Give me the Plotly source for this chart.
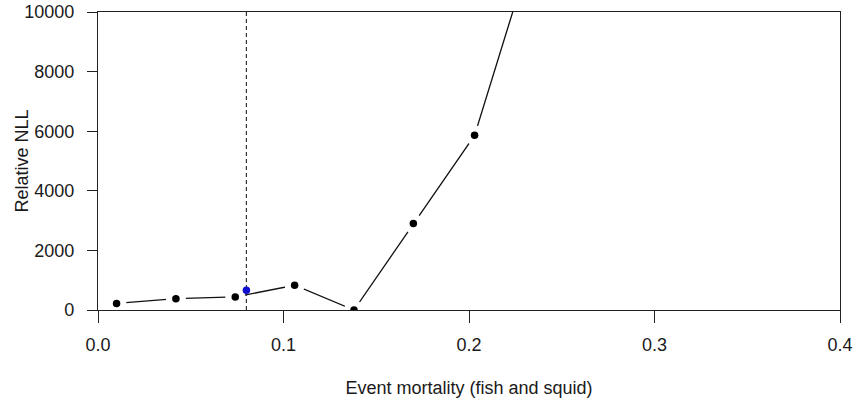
import plotly.graph_objects as go

# Data
event_mortality = [0.010, 0.042, 0.074, 0.106, 0.138, 0.170, 0.203, 0.235]
relative_nll = [220, 380, 440, 830, 0, 2900, 5860, 12300]

estimate_x = [0.08]
estimate_nll = [660]

x_ticks = [0.0, 0.1, 0.2, 0.3, 0.4]
x_tick_labels = ["0.0", "0.1", "0.2", "0.3", "0.4"]
y_ticks = [0, 2000, 4000, 6000, 8000, 10000]
y_tick_labels = ["0", "2000", "4000", "6000", "8000", "10000"]

FONT = "Liberation Sans, Arial, sans-serif"
INK = "#1a1a1a"

fig = go.Figure()

# connecting line with white halo markers (R-style "type = b" gaps)
fig.add_trace(go.Scatter(
    x=event_mortality, y=relative_nll, mode="lines+markers",
    line=dict(color="#111111", width=1.3),
    marker=dict(color="white", size=20, opacity=1, line=dict(width=0)),
    cliponaxis=True, hoverinfo="skip", showlegend=False,
))
# black points
fig.add_trace(go.Scatter(
    x=event_mortality, y=relative_nll, mode="markers",
    marker=dict(color="black", size=7.5, line=dict(width=0)),
    cliponaxis=True, showlegend=False,
))

# dashed vertical line at the estimate
fig.add_trace(go.Scatter(
    x=[estimate_x[0], estimate_x[0]], y=[y_ticks[0], y_ticks[-1]], mode="lines",
    line=dict(color="#333333", width=1.2, dash="4px,3px"),
    hoverinfo="skip", showlegend=False,
))
# blue estimate point
fig.add_trace(go.Scatter(
    x=estimate_x, y=estimate_nll, mode="markers",
    marker=dict(color="#1010d0", size=7.5, line=dict(width=0)),
    cliponaxis=True, showlegend=False,
))

axis_common = dict(
    showgrid=False, zeroline=False, showline=True, mirror=True,
    linecolor="#222222", linewidth=1.3, automargin=False,
    ticks="outside", tickcolor="#222222", tickwidth=1.3,
    tickfont=dict(family=FONT, size=18, color=INK),
)

fig.update_layout(
    width=868, height=401,
    margin=dict(l=98, r=28, t=12, b=91, autoexpand=False),
    paper_bgcolor="white", plot_bgcolor="white",
    xaxis=dict(
        range=[0, 0.4], tickvals=x_ticks, ticktext=x_tick_labels,
        ticklen=12, ticklabelstandoff=6,
        title=dict(text="Event mortality (fish and squid)",
                   font=dict(family=FONT, size=18, color=INK), standoff=27),
        **axis_common,
    ),
    yaxis=dict(
        range=[0, 10000], tickvals=y_ticks, ticktext=y_tick_labels,
        ticklen=10, ticklabelstandoff=9,
        **axis_common,
    ),
    annotations=[dict(
        text="Relative NLL", textangle=-90, showarrow=False,
        xref="paper", yref="paper", x=-0.103, y=0.5,
        xanchor="center", yanchor="middle",
        font=dict(family=FONT, size=18, color=INK),
    )],
)

fig.write_html("out.html")
